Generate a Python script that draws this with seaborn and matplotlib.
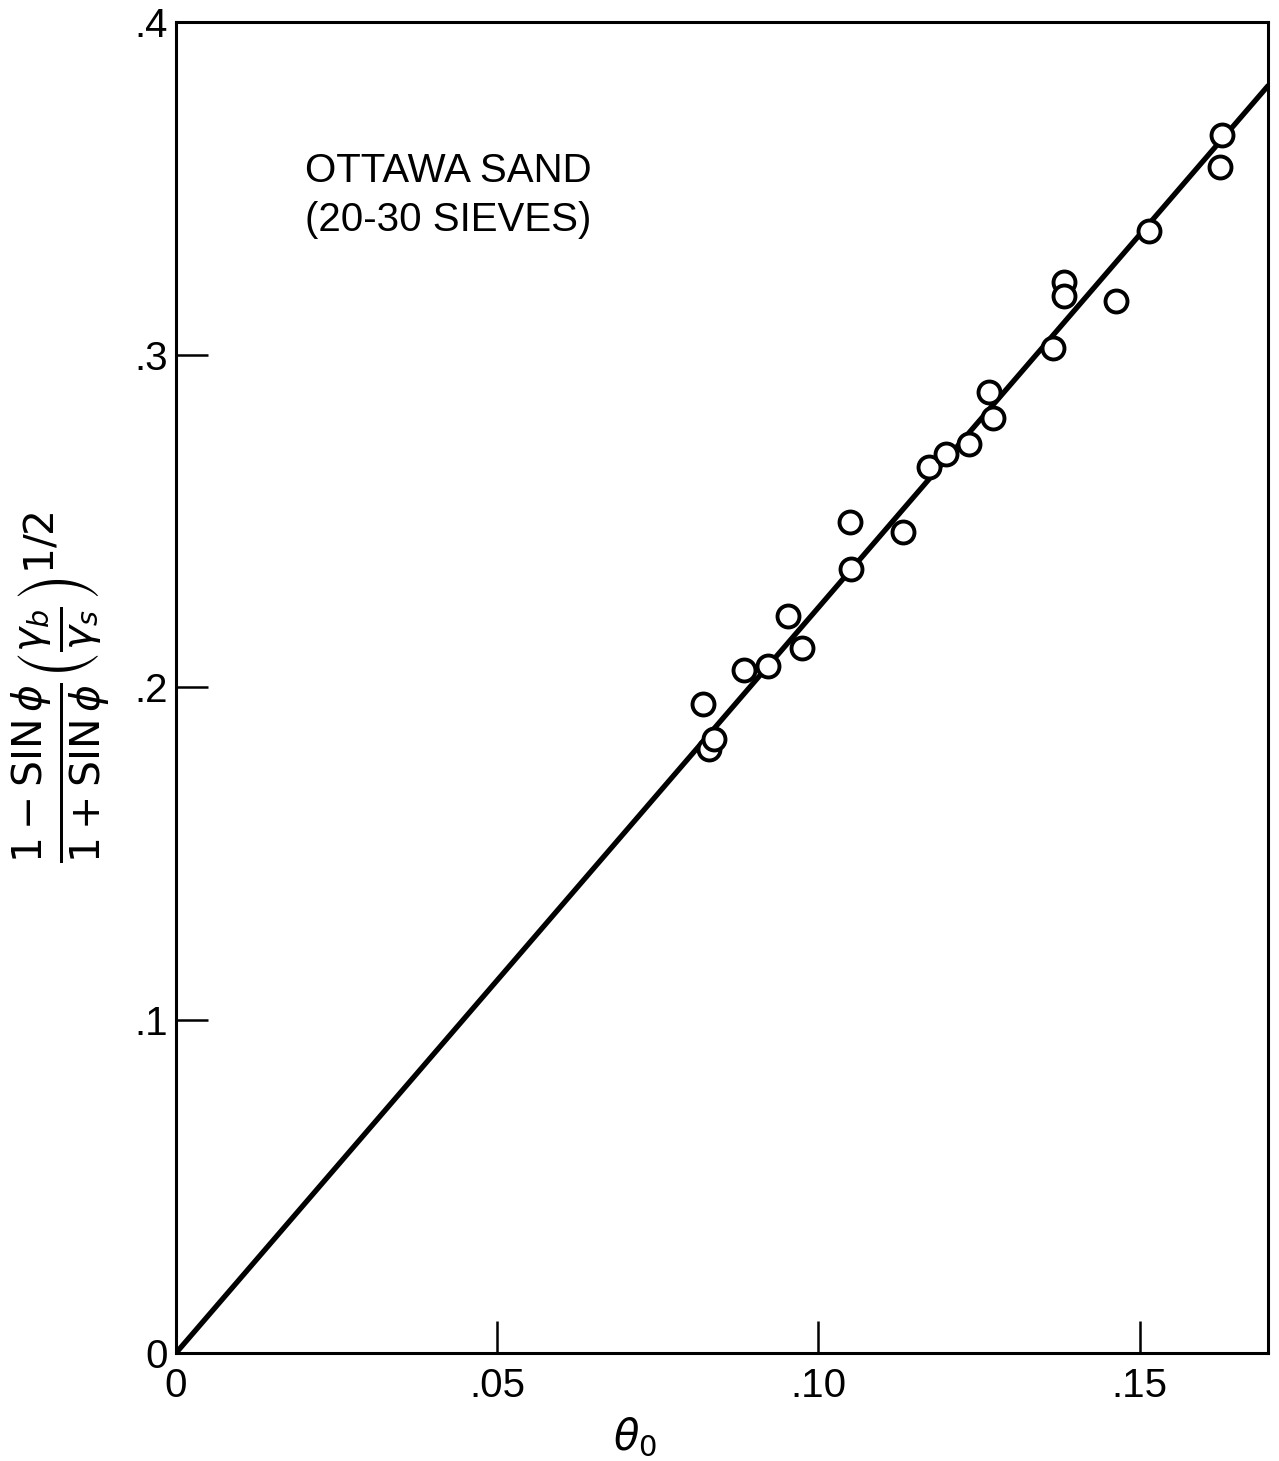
import matplotlib
matplotlib.use("Agg")
import matplotlib.pyplot as plt
import pandas as pd
import seaborn as sns

# Measured points (theta_0 vs. stress ratio term)
theta0 = [0.0821, 0.0829, 0.0838, 0.0885, 0.0921, 0.0953, 0.0975, 0.1050,
          0.1051, 0.1132, 0.1173, 0.1198, 0.1234, 0.1266, 0.1272, 0.1366,
          0.1383, 0.1383, 0.1464, 0.1514, 0.1629, 0.1625]
ratio = [0.1949, 0.1814, 0.1844, 0.2052, 0.2064, 0.2214, 0.2118, 0.2497,
         0.2356, 0.2467, 0.2662, 0.2702, 0.2732, 0.2888, 0.2810, 0.3020,
         0.3219, 0.3177, 0.3162, 0.3372, 0.3661, 0.3565]

# Straight line through origin
fit_slope = 2.24
fit_x = [0.0, 0.17]

xticks = [0, 0.05, 0.10, 0.15]
xtick_labels = ["0", ".05", ".10", ".15"]
yticks = [0, 0.1, 0.2, 0.3, 0.4]
ytick_labels = ["0", ".1", ".2", ".3", ".4"]

df = pd.DataFrame({"theta0": theta0, "ratio": ratio})
fit = pd.DataFrame({"x": fit_x, "y": [fit_slope * v for v in fit_x]})

sns.set_theme(style="white")
plt.rcParams["font.family"] = ["Liberation Sans", "DejaVu Sans"]
plt.rcParams["mathtext.fontset"] = "dejavusans"

fig = plt.figure(figsize=(12.79, 14.61), dpi=100)
ax = fig.add_axes([0.1376, 0.0739, 0.8538, 0.9111])

sns.lineplot(data=fit, x="x", y="y", color="black", linewidth=3.8, ax=ax, zorder=2)
sns.scatterplot(data=df, x="theta0", y="ratio", marker="o", s=250,
                facecolor="white", edgecolor="black", linewidth=2.8,
                ax=ax, zorder=3)

ax.set_xlim(0, 0.17)
ax.set_ylim(0, 0.4)
ax.set_xticks(xticks)
ax.set_xticklabels(xtick_labels)
ax.set_yticks(yticks)
ax.set_yticklabels(ytick_labels)
ax.tick_params(axis="both", direction="in", length=23, width=1.8,
               labelsize=29, color="black", labelcolor="black",
               bottom=True, left=True, top=False, right=False)
ax.tick_params(axis="x", pad=10)
ax.tick_params(axis="y", pad=6)

for sp in ax.spines.values():
    sp.set_color("black")
    sp.set_linewidth(2.2)

ax.set_xlabel(r"$\theta_0$", fontsize=30, color="black")
ax.xaxis.set_label_coords(0.42, -0.047)
ax.set_ylabel(r"$\frac{1-\mathrm{SIN}\,\phi}{1+\mathrm{SIN}\,\phi}\left(\frac{\gamma_b}{\gamma_s}\right)^{1/2}$",
              fontsize=42, color="black")
ax.yaxis.set_label_coords(-0.058, 0.5)

ax.text(0.118, 0.902, "OTTAWA SAND\n(20-30 SIEVES)", transform=ax.transAxes,
        fontsize=29, color="black", ha="left", va="top", linespacing=1.35)

fig.savefig("out.png", dpi=100)
